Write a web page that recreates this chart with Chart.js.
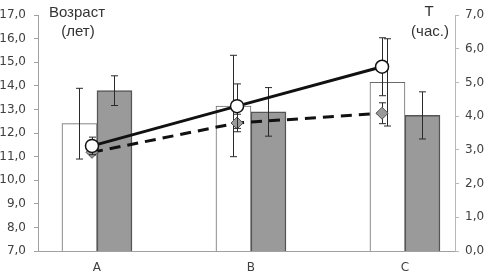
<!DOCTYPE html>
<html lang="ru">
<head>
<meta charset="UTF-8">
<title>Возраст и T</title>
<style>
  body { margin: 0; background: #fff; }
  #wrap { width: 485px; height: 275px; }
</style>
</head>
<body>
<div id="wrap"><canvas id="chart"></canvas></div>
<script src="https://cdn.jsdelivr.net/npm/chart.js"></script>
<script>
// categories and values
const categories = ['A', 'B', 'C'];

// age, left axis (bars)
const ageWhite = [12.4, 13.15, 14.15];
const ageWhiteErr = [1.5, 2.15, 1.85];
const ageGray = [13.8, 12.9, 12.75];
const ageGrayErr = [0.63, 1.03, 1.0];

// time, right axis (lines)
const timeSolid = [3.12, 4.3, 5.47];
const timeSolidErr = [0.26, 0.66, 0.86];
const timeDashed = [2.93, 3.8, 4.09];
const timeDashedErr = [0.08, 0.26, 0.31];

const fmt = v => Number(v).toFixed(1).replace('.', ',');
const toPoints = arr => arr.map((v, i) => ({ x: i, y: v }));

// error bars drawn from the datasets' own elements and scales
const errorBars = {
    id: 'errorBars',
    draw(chart, args) {
        const ds = chart.data.datasets[args.index];
        if (!ds.errors) return;
        const yScale = chart.scales[ds.yAxisID];
        const ctx = chart.ctx;
        ctx.save();
        ctx.strokeStyle = '#2a2a2a';
        ctx.lineWidth = 1;
        args.meta.data.forEach((el, i) => {
            const v = ds.data[i].y;
            const e = ds.errors[i];
            const x = Math.round(el.x) + 0.5;
            const top = yScale.getPixelForValue(v + e);
            const bot = yScale.getPixelForValue(v - e);
            ctx.beginPath();
            ctx.moveTo(x, top);
            ctx.lineTo(x, bot);
            ctx.moveTo(x - 3.5, top);
            ctx.lineTo(x + 3.5, top);
            ctx.moveTo(x - 3.5, bot);
            ctx.lineTo(x + 3.5, bot);
            ctx.stroke();
        });
        ctx.restore();
    },
    beforeDatasetDraw(chart, args) {
        if (chart.data.datasets[args.index].type === 'line') this.draw(chart, args);
    },
    afterDatasetDraw(chart, args) {
        if (chart.data.datasets[args.index].type === 'bar') this.draw(chart, args);
    }
};

// axis titles
const axisTitles = {
    id: 'axisTitles',
    afterDraw(chart) {
        const ctx = chart.ctx;
        ctx.save();
        ctx.fillStyle = '#333';
        ctx.font = '15px "Liberation Sans", Arial, sans-serif';
        ctx.textAlign = 'center';
        ctx.textBaseline = 'middle';
        ctx.fillText('Возраст', 77, 13);
        ctx.fillText('(лет)', 78, 32);
        ctx.fillText('T', 429, 12);
        ctx.fillText('(час.)', 430, 32);
        ctx.restore();
    }
};

const tickFont = { family: '"DejaVu Sans", Verdana, sans-serif', size: 12 };

new Chart(document.getElementById('chart'), {
    data: {
        datasets: [
            {
                type: 'line',
                label: 'T 1',
                data: toPoints(timeSolid),
                errors: timeSolidErr,
                xAxisID: 'xl',
                yAxisID: 'y2',
                borderColor: '#111',
                borderWidth: 3,
                pointStyle: 'circle',
                pointRadius: 6.5,
                pointBackgroundColor: '#fff',
                pointBorderColor: '#111',
                pointBorderWidth: 1.5,
                tension: 0
            },
            {
                type: 'line',
                label: 'T 2',
                data: toPoints(timeDashed),
                errors: timeDashedErr,
                xAxisID: 'xl',
                yAxisID: 'y2',
                borderColor: '#111',
                borderWidth: 3,
                borderDash: [11, 7],
                pointStyle: 'rectRot',
                pointRadius: 6,
                pointBackgroundColor: '#999',
                pointBorderColor: '#555',
                pointBorderWidth: 1,
                tension: 0
            },
            {
                type: 'bar',
                label: 'Возраст 1',
                data: toPoints(ageWhite),
                errors: ageWhiteErr,
                xAxisID: 'x',
                yAxisID: 'y',
                backgroundColor: '#fff',
                borderColor: '#6a6a6a',
                borderWidth: 1,
                barThickness: 35
            },
            {
                type: 'bar',
                label: 'Возраст 2',
                data: toPoints(ageGray),
                errors: ageGrayErr,
                xAxisID: 'x',
                yAxisID: 'y',
                backgroundColor: '#9a9a9a',
                borderColor: '#555',
                borderWidth: 1.5,
                barThickness: 35
            }
        ]
    },
    options: {
        responsive: true,
        maintainAspectRatio: false,
        animation: false,
        layout: { padding: { top: 9, left: 0, right: 0, bottom: 0 } },
        plugins: {
            legend: { display: false },
            tooltip: { enabled: false }
        },
        scales: {
            x: {
                type: 'linear',
                position: 'bottom',
                offset: false,
                bounds: 'data',
                min: -0.383,
                max: 2.325,
                afterBuildTicks: scale => {
                    scale.ticks = categories.map((c, i) => ({ value: i }));
                },
                afterFit: scale => { scale.height = 24; },
                ticks: {
                    autoSkip: false,
                    padding: 10,
                    color: '#404040',
                    font: tickFont,
                    callback: v => categories[v]
                },
                grid: { display: false, drawTicks: false, offset: false },
                border: { display: true, color: '#a0a0a0', width: 1 }
            },
            xl: {
                type: 'linear',
                display: false,
                offset: false,
                bounds: 'data',
                min: -0.3724,
                max: 2.503
            },
            y: {
                position: 'left',
                min: 7,
                max: 17,
                afterFit: scale => { scale.width = 38; },
                ticks: {
                    stepSize: 1,
                    padding: 8,
                    color: '#404040',
                    font: tickFont,
                    callback: fmt
                },
                grid: { drawOnChartArea: false, tickLength: 4, color: '#a0a0a0' },
                border: { color: '#a0a0a0', width: 1 }
            },
            y2: {
                position: 'right',
                min: 0,
                max: 7,
                afterFit: scale => { scale.width = 30; },
                ticks: {
                    stepSize: 1,
                    padding: 6,
                    color: '#404040',
                    font: tickFont,
                    callback: fmt
                },
                grid: { drawOnChartArea: false, tickLength: 4, color: '#b8b8b8' },
                border: { color: '#b8b8b8', width: 1 }
            }
        }
    },
    plugins: [errorBars, axisTitles]
});
</script>
</body>
</html>
